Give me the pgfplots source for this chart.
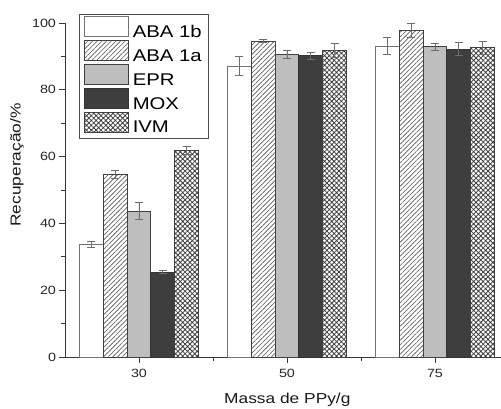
\documentclass[border=0pt]{standalone}
\usepackage{fontspec}
\setmainfont{Liberation Sans}[FakeStretch=1.2]
\usepackage{pgfplots}
\pgfplotsset{compat=1.18}
\usetikzlibrary{patterns,patterns.meta}

\definecolor{axisgray}{RGB}{55,55,55}
\definecolor{errgray}{RGB}{110,110,110}
\definecolor{eprfill}{RGB}{190,190,190}
\definecolor{moxfill}{RGB}{62,62,62}
\definecolor{hatchgray}{RGB}{85,85,85}

\begin{document}
\begin{tikzpicture}
\begin{axis}[
  scale only axis,
  width=436bp, height=334bp,
  xmin=-0.5, xmax=2.446,
  ymin=0, ymax=100,
  axis x line*=bottom, axis y line*=left,
  axis line style={axisgray, line width=0.8bp},
  every tick/.style={axisgray, line width=0.8bp},
  tick align=outside,
  major tick length=5.5bp, minor tick length=4bp,
  xtick={0,1,2}, xticklabels={30,50,75},
  minor xtick={0.5,1.5},
  ytick={0,20,40,60,80,100},
  minor ytick={10,30,50,70,90},
  /pgf/number format/assume math mode=true,
  tick label style={font=\fontsize{12}{14}\selectfont, text=black!85},
  xticklabel style={yshift=-3bp},
  xlabel={Massa de PPy/g},
  ylabel={Recuperação/\%},
  label style={font=\fontsize{14.5}{16}\selectfont, text=black!90},
  xlabel style={at={(axis description cs:0.51,0)}, anchor=center, yshift=-43bp},
  ylabel style={at={(axis description cs:-0.11,0.575)}, anchor=center},
  ybar, bar width=0.161,
  legend cell align=left,
  legend style={at={(axis description cs:0.032,1.027)}, anchor=north west,
    draw=black!70, line width=0.8bp, font=\fontsize{17}{19}\selectfont,
    row sep=-1bp, inner xsep=5bp, inner ysep=2bp,
    nodes={inner ysep=0.5bp, inner xsep=1.5bp, text height=12.5bp, text depth=3bp}},
  legend image code/.code={%
    \draw[#1,/tikz/.cd,line width=0.9bp] (0bp,-3.9bp) rectangle (44bp,16.1bp);
    \path (46bp,0bp);},
  error bars/y dir=both, error bars/y explicit,
  error bars/error bar style={errgray, line width=0.7bp},
  error bars/error mark options={rotate=90, mark size=4bp, errgray, line width=0.7bp},
]
% ABA 1b
\addplot+[bar shift=-0.322, fill=white, draw=black!55, line width=0.9bp]
  coordinates {(0,33.7) +- (0,1.0) (1,87.1) +- (0,2.9) (2,93.1) +- (0,2.6)};
% ABA 1a
\addplot+[bar shift=-0.161, fill=white, draw=black!75, line width=0.9bp,
  postaction={pattern={Lines[angle=45,distance=3.3bp,line width=0.6bp]}, pattern color=hatchgray}]
  coordinates {(0,54.8) +- (0,1.2) (1,94.6) +- (0,0.4) (2,97.9) +- (0,2.1)};
% EPR
\addplot+[bar shift=0, fill=eprfill, draw=black!75, line width=0.9bp]
  coordinates {(0,43.7) +- (0,2.5) (1,90.6) +- (0,1.1) (2,92.9) +- (0,1.0)};
% MOX
\addplot+[bar shift=0.161, fill=moxfill, draw=black!80, line width=0.9bp]
  coordinates {(0,25.4) +- (0,0.4) (1,90.2) +- (0,1.1) (2,92.2) +- (0,2.0)};
% IVM
\addplot+[bar shift=0.322, fill=white, draw=black!75, line width=0.9bp,
  postaction={pattern={Hatch[angle=45,distance=3.4bp,line width=0.8bp]}, pattern color=black!75}]
  coordinates {(0,61.8) +- (0,1.2) (1,91.8) +- (0,2.1) (2,92.6) +- (0,2.0)};
\legend{ABA 1b, ABA 1a, EPR, MOX, IVM}
\end{axis}
\pgfresetboundingbox
\path ([shift={(-65bp,-52bp)}]current axis.south west) rectangle ([shift={(0bp,23bp)}]current axis.north east);
\end{tikzpicture}
\end{document}
